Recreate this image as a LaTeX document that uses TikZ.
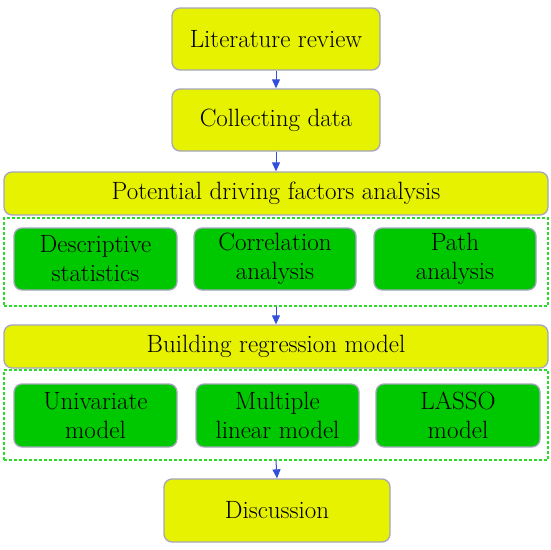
\documentclass[tikz,border=0pt]{standalone}
\usepackage{fontspec}
\usetikzlibrary{arrows.meta}
\definecolor{yel}{RGB}{230,242,0}
\definecolor{grn}{RGB}{0,200,0}
\definecolor{edge}{RGB}{165,165,190}
\definecolor{dgrn}{RGB}{40,220,40}
\definecolor{arr}{RGB}{50,80,220}
\tikzset{
  base/.style={rounded corners=8pt, draw=edge, line width=1.3pt, align=center, inner sep=0pt,
    font=\rmfamily\fontsize{25}{29}\selectfont},
  ybox/.style={base, fill=yel},
  gbox/.style={base, fill=grn},
  group/.style={draw=dgrn, dashed, dash pattern=on 3pt off 2pt, line width=1.1pt, inner sep=0pt},
  conn/.style={draw=arr, line width=1pt, -{Triangle[width=8pt,length=9pt]}}
}
\begin{document}
\begin{tikzpicture}[x=1pt,y=-1pt]
\useasboundingbox (0,0) rectangle (550,550);
\node[ybox, minimum width=208pt, minimum height=62pt] (lit) at (276,39) {Literature review};
\node[ybox, minimum width=208pt, minimum height=62pt] (col) at (276,120) {Collecting data};
\node[ybox, minimum width=544pt, minimum height=43pt] (pot) at (276,193.5) {Potential driving factors analysis};
\node[group, minimum width=544pt, minimum height=88pt] (g1) at (276,262) {};
\node[gbox, minimum width=163pt, minimum height=62pt] (d1) at (95.5,259) {Descriptive\\statistics};
\node[gbox, minimum width=162pt, minimum height=62pt] (c1) at (275,259) {Correlation\\analysis};
\node[gbox, minimum width=162pt, minimum height=62pt] (p1) at (455,259) {Path\\analysis};
\node[ybox, minimum width=544pt, minimum height=43pt] (build) at (276,346.5) {Building regression model};
\node[group, minimum width=544pt, minimum height=90pt] (g2) at (276,415) {};
\node[gbox, minimum width=163pt, minimum height=63pt] (u) at (95.5,415.5) {Univariate\\model};
\node[gbox, minimum width=163pt, minimum height=63pt] (m) at (277.5,415.5) {Multiple\\linear model};
\node[gbox, minimum width=164pt, minimum height=63pt] (l) at (458,415.5) {LASSO\\model};
\node[ybox, minimum width=226pt, minimum height=63pt] (disc) at (277,510.5) {Discussion};
\draw[conn] (lit) -- (col);
\draw[conn] (col) -- (pot);
\draw[conn] (g1.south) -- (build.north);
\draw[conn] (g2.south) -- (disc.north);
\end{tikzpicture}
\end{document}
